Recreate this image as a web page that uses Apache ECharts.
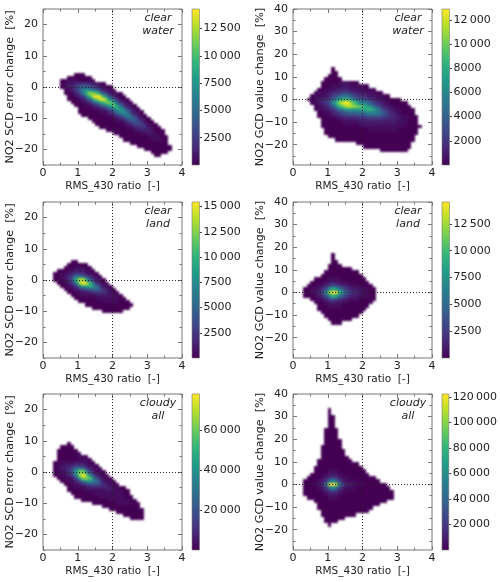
<!DOCTYPE html>
<html>
<head>
<meta charset="utf-8">
<script src="https://cdn.jsdelivr.net/npm/echarts@6/dist/echarts.min.js"></script>
<style>html,body{margin:0;padding:0;background:#fff}#chart{width:500px;height:582px}</style>
</head>
<body>
<div id="chart"></div>
<script>
// Density rows: [first x-bin index, one level character per bin], listed from the top y bin downward.
// A level character is base 36, from 0 (lowest count) to z (the panel's peak count).
const scdWaterTop = 4;
const scdWaterRows = [
  [9,"000"],[7,"0000000"],[5,"0011100000"],[5,"0122345432100"],[5,"012368aa8642100"],
  [6,"01259fihfc73210"],[6,"00136clrqnga52100"],[7,"00136dlvzukc73100"],[7,"000126bjpvvme84100"],
  [8,"0001249djmqog95210"],[9,"00011358cgknha5210"],[10,"000011348bgkha5210"],[10,"00000011258cgga5210"],
  [11,"000000011368ce95210"],[13,"00000001246ac94210"],[14,"000000011257974100"],[15,"000000001246763100"],
  [16,"000000001134542100"],[18,"00000000122331000"],[20,"000000001122100"],[22,"00000000111100"],
  [23,"0000000011100"],[25,"00000000000"],[27,"0000000000"],[29,"00000000"],[31,"00000"],[32,"00"]
];
const gcdWaterTop = 13.5;
const gcdWaterRows = [
  [11,"0"],[11,"00"],[10,"000"],[9,"00000"],[8,"00000111000"],[8,"00011122111100"],
  [7,"00111233322111110"],[6,"01112345665332211100"],[5,"01112368acca75443221100"],
  [4,"0012346afilliea986432110000"],[5,"012358elrvwsnifec96431100000"],[6,"012359flpstrqnlifb8532100000"],
  [6,"0112358cfiihiikllhd8532110000"],[7,"001134689aaabceeeda853210000"],[7,"00011234555566888876543211000"],
  [8,"0000112222333444443332211000"],[8,"0000001111122222222222111000"],[8,"00000000000111111111111100000"],
  [9,"000000000000011111111000000"],[9,"000000000000000000000000000"],[10,"0000000000000000000000000"],
  [12,"00000000000000000000000"],[18,"0000000000000000"],[20,"00000000000000"],[25,"00000000"]
];
const scdLandTop = 6;
const scdLandRows = [
  [8,"00"],[7,"000000"],[6,"00011100"],[4,"00011222110"],[3,"0011235542110"],[3,"001247cdb74210"],
  [3,"001149jssjb5210"],[4,"00125cpxumc5210"],[5,"00125bhjkhb5210"],[6,"00124679ab84210"],
  [7,"001122345553110"],[8,"000111122222110"],[9,"000000111111100"],[10,"000000011111000"],
  [12,"00000000000000"],[14,"00000000000"],[17,"000000"]
];
const gcdLandTop = 16.5;
const gcdLandRows = [
  [11,"0"],[11,"0"],[11,"00"],[10,"0000"],[10,"0000000"],[9,"0000000000"],[8,"000000000000"],
  [6,"000011110000000"],[5,"00001232211000000"],[4,"0001136764321110000"],[3,"0011248fjhc8532211100"],
  [3,"001137fszvle964321100"],[3,"0001248fkic8532211100"],[5,"0011367643211100000"],
  [6,"00012322110000000"],[7,"000111100000000"],[7,"00000000000000"],[8,"000000000000"],
  [9,"0000000000"],[10,"0000000"],[11,"000"]
];
const scdCloudTop = 9;
const scdCloudRows = [
  [7,"0"],[5,"0000"],[4,"000000"],[4,"0000000"],[4,"000000110"],[4,"0000001110"],[3,"001111222110"],
  [3,"0112335542110"],[3,"012347bdb63110"],[3,"011249hppf73110"],[3,"001135eqzqg83110"],
  [4,"001126gpqne83110"],[5,"001136bfgeb62110"],[6,"0011246788642110"],[7,"00111233333321100"],
  [7,"000001111112211100"],[8,"00000011111111100"],[9,"00000001111111100"],[11,"0000000011111100"],
  [14,"00000001111100"],[17,"00000000000"],[19,"0000000000"],[21,"00000000"],[23,"000000"],[25,"0000"]
];
const gcdCloudTop = 33;
const gcdCloudRows = [
  [10,"0"],[10,"0"],[10,"00"],[10,"00"],[10,"00"],[10,"00"],[9,"0000"],[9,"0000"],[9,"0000"],
  [9,"00000"],[9,"00000"],[8,"000000"],[8,"0000000"],[8,"0000000"],[8,"00000000"],[7,"0000000000"],
  [7,"000000000000"],[6,"00000000000000"],[6,"000011100000000"],[5,"00001222100000000"],
  [4,"00001245421100000000"],[3,"0000125ceb521110000000"],[3,"000124cuzrd6321110000000"],
  [3,"0000125ceb521110000000000"],[3,"00000124542110000000000000"],[3,"00000012221000000000000000"],
  [4,"0000001110000000000000000"],[6,"000000000000000000000"],[7,"000000000000000000"],[7,"0000000000000000"],
  [8,"00000000000000"],[8,"0000000000"],[9,"000000"],[9,"0000"],[10,"0"]
];

// Peak count of each panel.
const scdWaterPeak = 14300, gcdWaterPeak = 12900, scdLandPeak = 15450;
const gcdLandPeak = 14540, scdCloudPeak = 78000, gcdCloudPeak = 122300;

// Colour bar tick labels.
const scdWaterBarTicks = [2500, 5000, 7500, 10000, 12500];
const gcdWaterBarTicks = [2000, 4000, 6000, 8000, 10000, 12000];
const scdLandBarTicks = [2500, 5000, 7500, 10000, 12500, 15000];
const gcdLandBarTicks = [2500, 5000, 7500, 10000, 12500];
const scdCloudBarTicks = [20000, 40000, 60000];
const gcdCloudBarTicks = [20000, 40000, 60000, 80000, 100000, 120000];

// Axis ticks.
const ratioMajor = [0, 1, 2, 3, 4], ratioMinor = [0.5, 1.5, 2.5, 3.5];
const scdMajor = [-20, -10, 0, 10, 20], scdMinor = [-25, -15, -5, 5, 15, 25];
const gcdMajor = [-20, -10, 0, 10, 20, 30, 40], gcdMinor = [-25, -15, -5, 5, 15, 25, 35];

const viridis = ['#440154','#482878','#3e4989','#31688e','#26828e','#1f9e89','#35b779','#6ece58','#b5de2b','#fde725'];
const FONT = '"DejaVu Sans"', INK = '#222', FRAME = '#777';
const BIN_X = 0.1, LEVELS = '0123456789abcdefghijklmnopqrstuvwxyz';

const SCD = {name: 'NO2 SCD error change  [%]', min: -25, max: 25, major: scdMajor, minor: scdMinor, binY: 1};
const GCD = {name: 'NO2 GCD value change  [%]', min: -29, max: 40, major: gcdMajor, minor: gcdMinor, binY: 1.5};

const rowTops = [9, 202, 394], colLefts = [43, 293];
const panels = [
  {c: 0, r: 0, kind: SCD, top: scdWaterTop, rows: scdWaterRows, peak: scdWaterPeak, bar: scdWaterBarTicks, tag: 'clear\nwater'},
  {c: 1, r: 0, kind: GCD, top: gcdWaterTop, rows: gcdWaterRows, peak: gcdWaterPeak, bar: gcdWaterBarTicks, tag: 'clear\nwater'},
  {c: 0, r: 1, kind: SCD, top: scdLandTop, rows: scdLandRows, peak: scdLandPeak, bar: scdLandBarTicks, tag: 'clear\nland'},
  {c: 1, r: 1, kind: GCD, top: gcdLandTop, rows: gcdLandRows, peak: gcdLandPeak, bar: gcdLandBarTicks, tag: 'clear\nland'},
  {c: 0, r: 2, kind: SCD, top: scdCloudTop, rows: scdCloudRows, peak: scdCloudPeak, bar: scdCloudBarTicks, tag: 'cloudy\nall'},
  {c: 1, r: 2, kind: GCD, top: gcdCloudTop, rows: gcdCloudRows, peak: gcdCloudPeak, bar: gcdCloudBarTicks, tag: 'cloudy\nall'}
];

const signed = v => String(v).replace('-', '\u2212');
const grouped = v => v >= 10000 ? String(Math.floor(v / 1000)) + '\u2009' + String(v % 1000).padStart(3, '0') : String(v);

// Expands the level rows of one panel into [x, y, count] cells.
function cellsOf(p) {
  const cells = [];
  p.rows.forEach(([first, levels], k) => {
    [...levels].forEach((ch, j) => {
      cells.push([(first + j + 0.5) * BIN_X, p.top - k * p.kind.binY, LEVELS.indexOf(ch) / 35 * p.peak]);
    });
  });
  return cells;
}

const grid = [], xAxis = [], yAxis = [], series = [], visualMap = [], title = [];

// One ticked side of the frame; the first axis added per grid carries the data.
function side(list, gridIndex, position, min, max, ticks, len, extra) {
  list.push(Object.assign({
    type: 'value', gridIndex, position, min, max, silent: true,
    axisLine: {show: false, onZero: false}, splitLine: {show: false},
    axisTick: {show: true, inside: true, length: len, customValues: ticks, lineStyle: {color: FRAME, width: 1}},
    axisLabel: {show: false}
  }, extra || {}));
  return list.length - 1;
}

panels.forEach((p, i) => {
  const left = colLefts[p.c], top = rowTops[p.r], kind = p.kind;
  const g = grid.length;
  grid.push({left, top, width: 139, height: 156, show: true, borderColor: FRAME, borderWidth: 1, backgroundColor: 'transparent', containLabel: false});

  const labelStyle = {color: INK, fontFamily: FONT, fontSize: 11};
  const xMain = side(xAxis, g, 'bottom', 0, 4, ratioMajor, 4, {
    name: 'RMS_430 ratio  [-]', nameLocation: 'middle', nameGap: 16, nameMoveOverlap: false,
    nameTextStyle: {color: INK, fontFamily: FONT, fontSize: 10.5},
    axisLabel: Object.assign({show: true, margin: 3, customValues: ratioMajor, formatter: signed}, labelStyle)
  });
  side(xAxis, g, 'bottom', 0, 4, ratioMinor, 2.5);
  side(xAxis, g, 'top', 0, 4, ratioMajor, 4);
  side(xAxis, g, 'top', 0, 4, ratioMinor, 2.5);

  const yMain = side(yAxis, g, 'left', kind.min, kind.max, kind.major, 4, {
    name: kind.name, nameLocation: 'middle', nameGap: 27, nameRotate: 90, nameMoveOverlap: false,
    nameTextStyle: {color: INK, fontFamily: FONT, fontSize: 11.2},
    axisLabel: Object.assign({show: true, margin: 5, customValues: kind.major, formatter: signed}, labelStyle)
  });
  side(yAxis, g, 'left', kind.min, kind.max, kind.minor, 2.5);
  side(yAxis, g, 'right', kind.min, kind.max, kind.major, 4);
  side(yAxis, g, 'right', kind.min, kind.max, kind.minor, 2.5);

  const heatIndex = series.length;
  series.push({
    type: 'custom', xAxisIndex: xMain, yAxisIndex: yMain, data: cellsOf(p),
    encode: {x: 0, y: 1}, animation: false, progressive: 0, silent: true, clip: true, zlevel: 1,
    renderItem(params, api) {
      const x = api.value(0), y = api.value(1);
      const a = api.coord([x - BIN_X / 2, y + kind.binY / 2]);
      const b = api.coord([x + BIN_X / 2, y - kind.binY / 2]);
      const x0 = Math.round(a[0]), y0 = Math.round(a[1]);
      return {type: 'rect', shape: {x: x0, y: y0, width: Math.round(b[0]) - x0, height: Math.round(b[1]) - y0},
              style: {fill: api.visual('color')}};
    },
    markLine: {
      silent: true, animation: false, symbol: ['none', 'none'], label: {show: false}, zlevel: 2,
      lineStyle: {type: [1, 2], color: '#222', width: 1},
      data: [{xAxis: 2}, {yAxis: 0}]
    }
  });
  // The softened layer loses a little at the crest, so the top colour is reached just below the peak.
  visualMap.push({show: false, type: 'continuous', seriesIndex: heatIndex, dimension: 2, min: 0, max: p.peak * 0.92, inRange: {color: viridis}});

  // Colour bar: its own narrow grid with a count axis on the right.
  const bg = grid.length;
  grid.push({left: left + 149, top, width: 7.5, height: 156});
  const bx = xAxis.length;
  xAxis.push({type: 'value', gridIndex: bg, min: 0, max: 1, show: false});
  const by = yAxis.length;
  yAxis.push({
    type: 'value', gridIndex: bg, position: 'right', min: 0, max: p.peak, silent: true,
    axisLine: {show: false, onZero: false}, splitLine: {show: false},
    axisTick: {show: true, inside: false, length: 2.5, customValues: p.bar, lineStyle: {color: '#444'}},
    axisLabel: {show: true, margin: 4, customValues: p.bar, formatter: grouped, color: INK, fontFamily: FONT, fontSize: 11}
  });
  series.push({
    type: 'custom', xAxisIndex: bx, yAxisIndex: by, data: [[0, p.peak]], encode: {x: 0, y: 1},
    animation: false, silent: true, clip: false,
    renderItem(params, api) {
      const a = api.coord([0, p.peak]), b = api.coord([1, 0]);
      const stops = viridis.map((color, k) => ({offset: k / (viridis.length - 1), color}));
      return {type: 'rect', shape: {x: a[0], y: a[1], width: b[0] - a[0], height: b[1] - a[1]},
              style: {fill: {type: 'linear', x: 0, y: 1, x2: 0, y2: 0, colorStops: stops}, stroke: FRAME, lineWidth: 0.6}};
    }
  });

  title.push({
    text: p.tag, left: left + 115, top: top + 3, textAlign: 'center', padding: 0,
    textStyle: {fontFamily: FONT, fontStyle: 'italic', fontWeight: 'normal', fontSize: 11, lineHeight: 12.5, color: INK, align: 'center'}
  });
});

const chart = echarts.init(document.getElementById('chart'), null, {renderer: 'canvas'});
chart.setOption({animation: false, backgroundColor: '#fff', title, grid, xAxis, yAxis, visualMap, series});

// The density cells sit on their own canvas layer, softened slightly so the bins read as a smooth field.
const densityLayer = chart.getDom().querySelector('canvas[data-zr-dom-id="zr_1"]');
if (densityLayer) densityLayer.style.filter = 'blur(0.8px)';
</script>
</body>
</html>
